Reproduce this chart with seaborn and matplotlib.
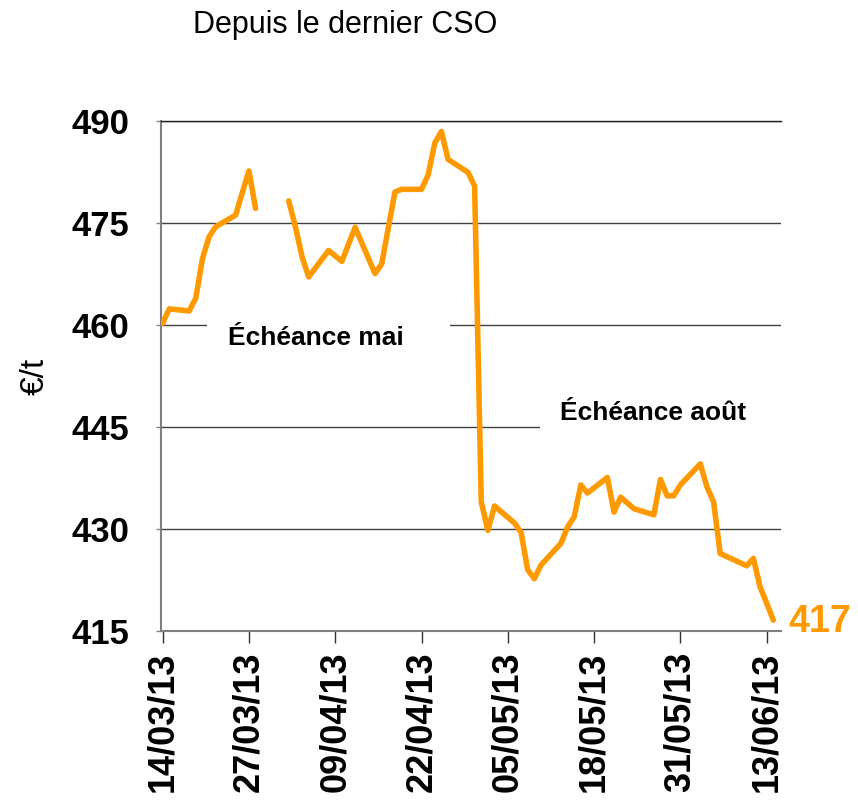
import numpy as np
import pandas as pd
import matplotlib
matplotlib.use("Agg")
import matplotlib.pyplot as plt
import matplotlib.dates as mdates
from matplotlib.patches import Rectangle
import seaborn as sns

# Prix (€/t) - la coupure correspond au week-end de Pâques
dates_before_easter = ["2013-03-14", "2013-03-15", "2013-03-18", "2013-03-19", "2013-03-20",
                       "2013-03-21", "2013-03-22", "2013-03-25", "2013-03-26", "2013-03-27",
                       "2013-03-28"]
prices_before_easter = [460.3, 462.4, 462.1, 464.0, 469.8,
                        473.0, 474.5, 476.2, 479.5, 482.7,
                        477.2]

dates_after_easter = ["2013-04-02", "2013-04-03", "2013-04-04", "2013-04-05", "2013-04-08",
                      "2013-04-10", "2013-04-12", "2013-04-15", "2013-04-16", "2013-04-18",
                      "2013-04-19", "2013-04-22", "2013-04-23", "2013-04-24", "2013-04-25",
                      "2013-04-26", "2013-04-29", "2013-04-30", "2013-05-01", "2013-05-02",
                      "2013-05-03", "2013-05-06", "2013-05-07", "2013-05-08", "2013-05-09",
                      "2013-05-10", "2013-05-13", "2013-05-14", "2013-05-15", "2013-05-16",
                      "2013-05-17", "2013-05-20", "2013-05-21", "2013-05-22", "2013-05-24",
                      "2013-05-27", "2013-05-28", "2013-05-29", "2013-05-30", "2013-05-31",
                      "2013-06-03", "2013-06-04", "2013-06-05", "2013-06-06", "2013-06-10",
                      "2013-06-11", "2013-06-12", "2013-06-13", "2013-06-14"]
prices_after_easter = [478.3, 474.5, 470.1, 467.1, 471.0,
                       469.4, 474.4, 467.6, 469.0, 479.6,
                       480.0, 480.0, 482.1, 486.8, 488.5,
                       484.4, 482.5, 480.5, 434.0, 429.8,
                       433.4, 430.9, 429.5, 424.0, 422.7,
                       424.7, 427.9, 430.3, 431.8, 436.5,
                       435.3, 437.6, 432.5, 434.7, 433.0,
                       432.1, 437.3, 434.9, 434.9, 436.5,
                       439.6, 436.2, 434.0, 426.4, 424.6,
                       425.7, 421.5, 419.1, 416.6]

tick_dates = ["2013-03-14", "2013-03-27", "2013-04-09", "2013-04-22",
              "2013-05-05", "2013-05-18", "2013-05-31", "2013-06-13"]
y_ticks = [415, 430, 445, 460, 475, 490]

ORANGE = "#FF9900"

df = pd.concat([
    pd.DataFrame({"date": pd.to_datetime(dates_before_easter),
                  "price": prices_before_easter, "segment": 0}),
    pd.DataFrame({"date": pd.to_datetime(dates_after_easter),
                  "price": prices_after_easter, "segment": 1}),
], ignore_index=True)

sns.set_theme(style="white")
plt.rcParams["font.family"] = ["Liberation Sans", "DejaVu Sans"]
plt.rcParams["text.color"] = "black"
plt.rcParams["axes.labelcolor"] = "black"

fig = plt.figure(figsize=(8.58, 8.09), dpi=100)
ax = fig.add_axes([0.1876, 0.22, 0.7226, 0.630])

sns.lineplot(data=df, x="date", y="price", units="segment", estimator=None,
             color=ORANGE, linewidth=4, solid_capstyle="round",
             solid_joinstyle="round", legend=False, ax=ax, zorder=3)

# axes
date0 = pd.Timestamp(tick_dates[0])
ax.set_xlim(date0 - pd.Timedelta(hours=6), date0 + pd.Timedelta(days=93.15))
ax.set_ylim(415, 490)
ax.set_yticks(y_ticks)
ax.set_xticks(pd.to_datetime(tick_dates))
ax.xaxis.set_major_formatter(mdates.DateFormatter("%d/%m/%y"))

ax.yaxis.grid(True, color="#404040", linewidth=1)
ax.xaxis.grid(False)
ax.spines["right"].set_visible(False)
ax.spines["top"].set_color("#202020")
ax.spines["top"].set_linewidth(1)
ax.spines["left"].set_color("#808080")
ax.spines["left"].set_linewidth(1.5)
ax.spines["bottom"].set_color("#808080")
ax.spines["bottom"].set_linewidth(1.5)

ax.tick_params(axis="y", left=True, length=3.6, width=1, color="#808080",
               pad=19, labelsize=25, labelcolor="black")
ax.tick_params(axis="x", bottom=True, length=8.6, width=1, color="#303030",
               pad=6, labelsize=26, labelrotation=90, labelcolor="black")
for lab in ax.get_xticklabels() + ax.get_yticklabels():
    lab.set_fontweight("bold")

ax.set_xlabel("")
ax.set_ylabel("€/t", fontsize=24)
ax.yaxis.set_label_coords(-0.178, 0.5)

# zones de texte (fond blanc masquant la grille)
ax.add_patch(Rectangle((0.074, 0.538), 0.392, 0.086, transform=ax.transAxes,
                       facecolor="white", edgecolor="none", zorder=1))
ax.add_patch(Rectangle((0.611, 0.375), 0.389, 0.108, transform=ax.transAxes,
                       facecolor="white", edgecolor="none", zorder=1))
ax.text(0.108, 0.561, "Échéance mai", transform=ax.transAxes, fontsize=19,
        fontweight="bold", ha="left", va="baseline", zorder=4)
ax.text(0.6435, 0.414, "Échéance août", transform=ax.transAxes, fontsize=19,
        fontweight="bold", ha="left", va="baseline", zorder=4)

# dernière valeur
last = df.iloc[-1]
ax.annotate(f"{last['price']:.0f}", xy=(last["date"], last["price"]),
            xytext=(11, -1), textcoords="offset points", ha="left", va="center",
            fontsize=27, fontweight="bold", color=ORANGE, annotation_clip=False)

fig.text(0.402, 0.9588, "Depuis le dernier CSO", ha="center", va="baseline",
         fontsize=22)

fig.savefig("out.png", dpi=100)
